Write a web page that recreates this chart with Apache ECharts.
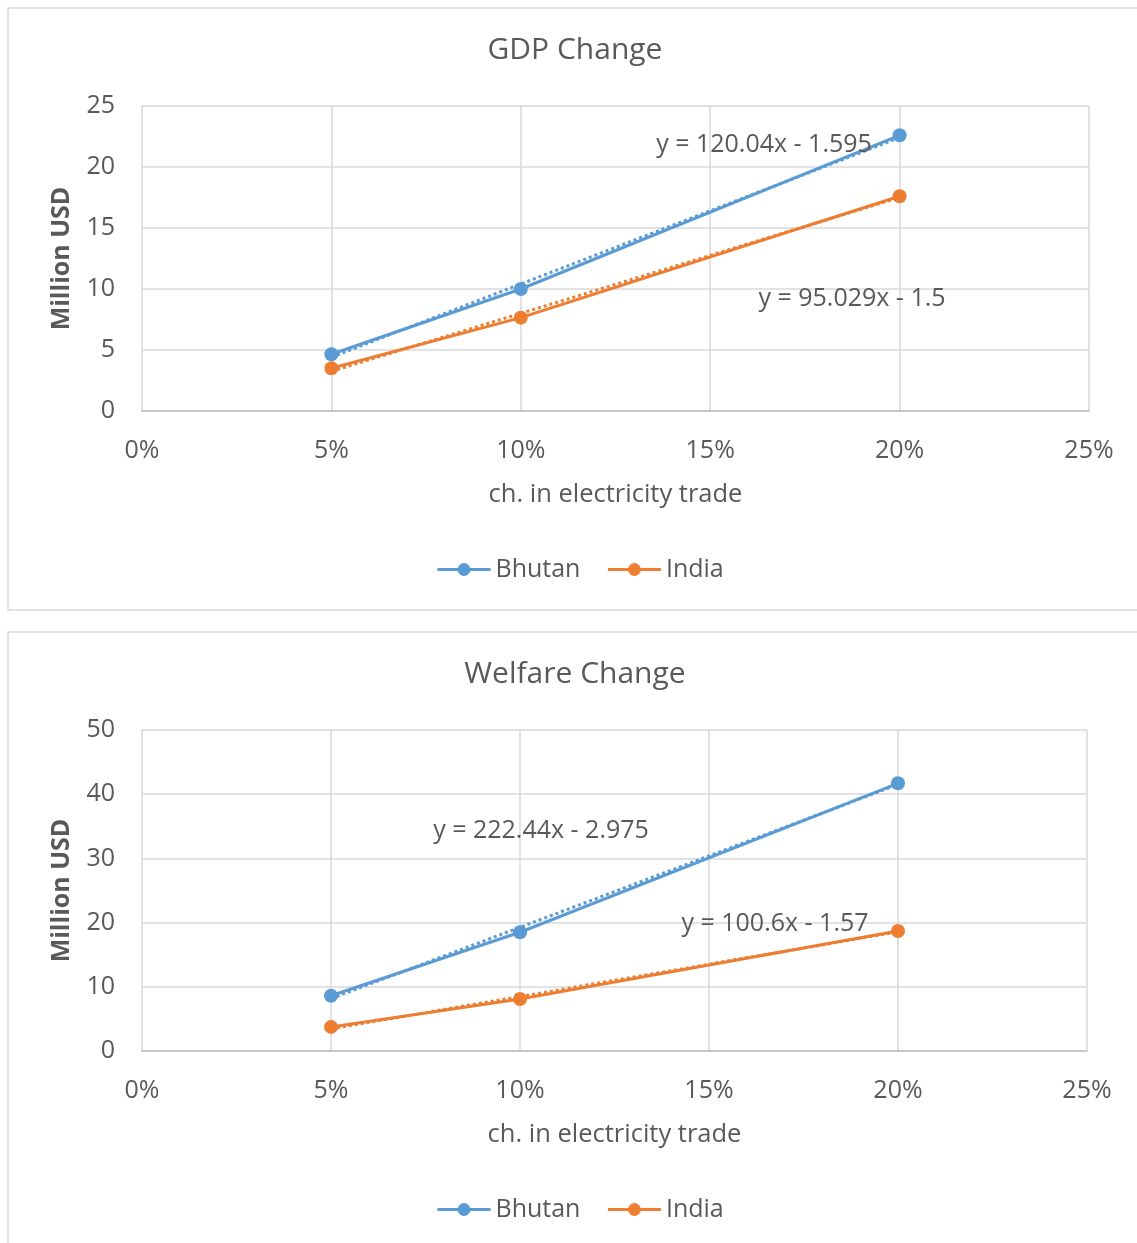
<!DOCTYPE html>
<html><head><meta charset="utf-8">
<script src="https://cdn.jsdelivr.net/npm/echarts@6/dist/echarts.min.js"></script>
<style>html,body{margin:0;padding:0;background:#fff}#c{width:1137px;height:1243px}</style>
</head><body><div id="c"></div>
<script>
const trade = [0.05, 0.10, 0.20];
const xTicks = ['0%','5%','10%','15%','20%','25%'];
const gdpBhutan = [4.65, 10.0, 22.6];
const gdpIndia = [3.5, 7.65, 17.6];
const welBhutan = [8.6, 18.5, 41.7];
const welIndia = [3.75, 8.1, 18.7];
const gdpTrend = {Bhutan:[120.04,-1.595], India:[95.029,-1.5]};
const welTrend = {Bhutan:[222.44,-2.975], India:[100.6,-1.57]};
const titles = ['GDP Change','Welfare Change'];

const FONT = 'Open Sans';
const TXT = '#595959';
const BLUE = '#5b9bd5', ORANGE = '#ed7d31';

function pts(ys){ return trade.map((x,i)=>[x, ys[i]]); }
function trend(c){ return [trade[0], trade[trade.length-1]].map(x=>[x, c[0]*x + c[1]]); }

const chart = echarts.init(document.getElementById('c'));
const grids = [
  {left:142, top:106, width:947, height:305},
  {left:142, top:730, width:945, height:321}
];
const xAxes = [0,1].map(i=>({
  type:'value', gridIndex:i, min:0, max:0.25, interval:0.05,
  name:'ch. in electricity trade', nameLocation:'middle', nameGap:71,
  nameTextStyle:{color:TXT, fontFamily:FONT, fontSize:25.5},
  axisLine:{show:true, lineStyle:{color:'#bfbfbf', width:1.5}},
  axisTick:{show:false},
  splitLine:{show:true, lineStyle:{color:'#d9d9d9', width:1.5}},
  axisLabel:{color:TXT, fontFamily:FONT, fontSize:25, margin:27,
    formatter:v=>xTicks[Math.round(v/0.05)]}
}));
const yAxes = [
  {max:25, interval:5},
  {max:50, interval:10}
].map((o,i)=>({
  type:'value', gridIndex:i, min:0, max:o.max, interval:o.interval,
  name:'Million USD', nameLocation:'middle', nameGap:68,
  nameTextStyle:{color:TXT, fontFamily:FONT, fontSize:25, fontWeight:'bold'},
  axisLine:{show:false}, axisTick:{show:false},
  splitLine:{show:true, lineStyle:{color:'#d9d9d9', width:1.5}},
  axisLabel:{color:TXT, fontFamily:FONT, fontSize:25, margin:27}
}));
function lineS(name, data, color, i){
  return {name, type:'line', xAxisIndex:i, yAxisIndex:i, data:pts(data),
    symbol:'circle', symbolSize:14, showSymbol:true,
    lineStyle:{color, width:3}, itemStyle:{color}, z:3};
}
function trendS(c, color, i){
  return {name:'trend', type:'line', xAxisIndex:i, yAxisIndex:i, data:trend(c),
    symbol:'none', silent:true, lineStyle:{color, width:3, type:'dotted'}, z:2};
}
const series = [
  trendS(gdpTrend.Bhutan, BLUE, 0), trendS(gdpTrend.India, ORANGE, 0),
  lineS('Bhutan', gdpBhutan, BLUE, 0), lineS('India', gdpIndia, ORANGE, 0),
  trendS(welTrend.Bhutan, BLUE, 1), trendS(welTrend.India, ORANGE, 1),
  lineS('Bhutan', welBhutan, BLUE, 1), lineS('India', welIndia, ORANGE, 1)
];
function eq(c){ return 'y = ' + c[0] + 'x - ' + Math.abs(c[1]); }
const eqStyle = {fill:TXT, font:'25px "Open Sans"', textAlign:'center', textVerticalAlign:'middle'};
const titleStyle = {fill:TXT, font:'30px "Open Sans"', textAlign:'center', textVerticalAlign:'middle'};
const legendBase = {data:['Bhutan','India'], left:431, itemWidth:53, itemHeight:16, itemGap:26,
  lineStyle:{width:3}, textStyle:{color:TXT, fontFamily:FONT, fontSize:25}};
chart.setOption({
  animation:false,
  legend:[
    Object.assign({top:552}, legendBase),
    Object.assign({top:1192}, legendBase)
  ],
  grid:grids, xAxis:xAxes, yAxis:yAxes, series,
  graphic:[
    {type:'rect', shape:{x:8,y:8,width:1140,height:602}, style:{fill:'none', stroke:'#d9d9d9', lineWidth:1.5}, silent:true},
    {type:'rect', shape:{x:8,y:632,width:1140,height:620}, style:{fill:'none', stroke:'#d9d9d9', lineWidth:1.5}, silent:true},
    {type:'text', x:575, y:50, style:Object.assign({text:titles[0]}, titleStyle), z:10},
    {type:'text', x:575, y:674, style:Object.assign({text:titles[1]}, titleStyle), z:10},
    {type:'text', x:764, y:145, style:Object.assign({text:eq(gdpTrend.Bhutan)}, eqStyle), z:10},
    {type:'text', x:852, y:299, style:Object.assign({text:eq(gdpTrend.India)}, eqStyle), z:10},
    {type:'text', x:541, y:831, style:Object.assign({text:eq(welTrend.Bhutan)}, eqStyle), z:10},
    {type:'text', x:775, y:924, style:Object.assign({text:eq(welTrend.India)}, eqStyle), z:10}
  ]
});
</script></body></html>
